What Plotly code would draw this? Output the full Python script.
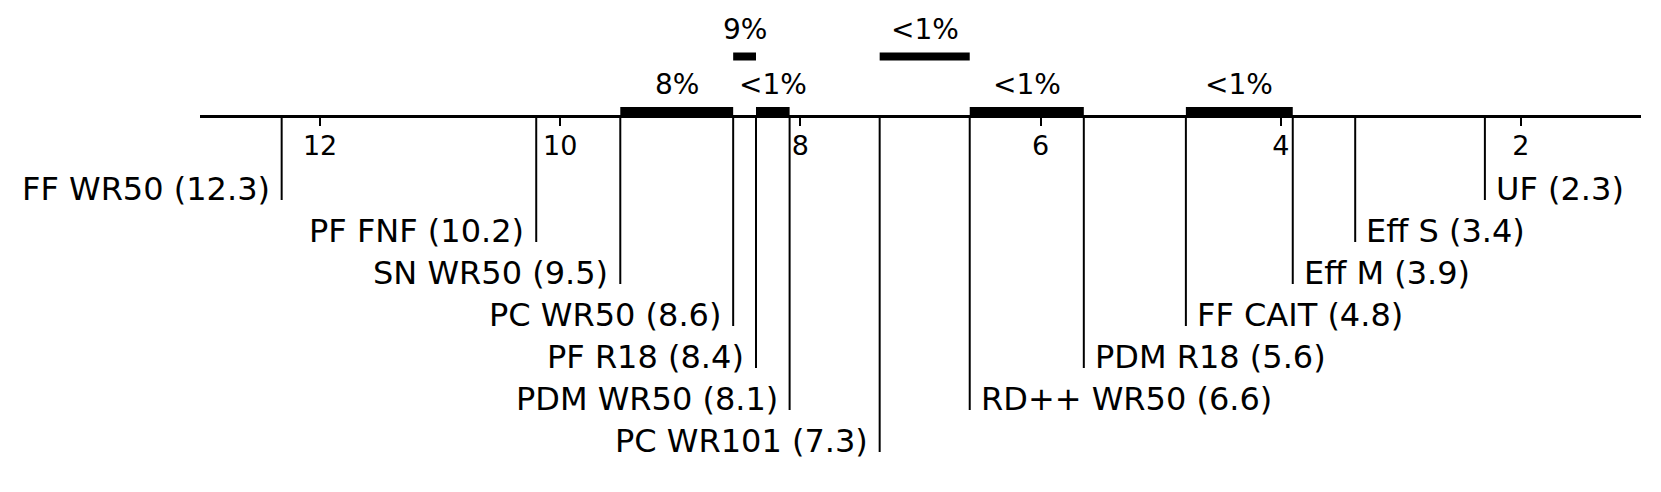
import plotly.graph_objects as go

# ---- data ----
method_names = ["FF WR50", "PF FNF", "SN WR50", "PC WR50", "PF R18", "PDM WR50",
                "PC WR101", "RD++ WR50", "PDM R18", "FF CAIT", "Eff M", "Eff S", "UF"]
mean_ranks = [12.32, 10.2, 9.5, 8.56, 8.37, 8.09, 7.34, 6.59, 5.64, 4.79, 3.90, 3.38, 2.30]
clique_from = ["SN WR50", "PC WR50", "PF R18", "PC WR101", "RD++ WR50", "FF CAIT"]
clique_to = ["PC WR50", "PF R18", "PDM WR50", "RD++ WR50", "PDM R18", "Eff M"]
clique_labels = ["8%", "9%", "<1%", "<1%", "<1%", "<1%"]
clique_levels = [0, 1, 0, 1, 0, 0]
tick_values = [12, 10, 8, 6, 4, 2]

# ---- layout constants ----
W, H = 1661, 492
AXIS_Y = 116
ROW0 = 200
ROW_STEP = 42
BAR_Y = [111, 56.5]
FONT = "DejaVu Sans"

rank_of = dict(zip(method_names, mean_ranks))
n_left = 7

fig = go.Figure()
annotations = []

left = sorted(zip(method_names, mean_ranks), key=lambda t: -t[1])[:n_left]
right = sorted(zip(method_names, mean_ranks), key=lambda t: t[1])[:len(method_names) - n_left]

for side, items in (("left", left), ("right", right)):
    for row, (name, r) in enumerate(items):
        yb = ROW0 + ROW_STEP * row
        fig.add_trace(go.Scatter(x=[r, r], y=[AXIS_Y, yb], mode="lines",
                                 line=dict(color="black", width=2), hoverinfo="skip",
                                 showlegend=False, cliponaxis=False))
        annotations.append(dict(x=r, y=yb - 11, xref="x", yref="y", text=f"{name} ({r:.1f})",
                                showarrow=False,
                                xanchor="right" if side == "left" else "left",
                                yanchor="middle",
                                xshift=-10 if side == "left" else 9,
                                font=dict(family=FONT, size=32, color="black")))

for a, b, lab, lev in zip(clique_from, clique_to, clique_labels, clique_levels):
    x0, x1 = rank_of[a], rank_of[b]
    y = BAR_Y[lev]
    fig.add_trace(go.Scatter(x=[x0, x1], y=[y, y], mode="lines",
                             line=dict(color="black", width=8), hoverinfo="skip",
                             showlegend=False, cliponaxis=False))
    annotations.append(dict(x=(x0 + x1) / 2, y=y - 27, xref="x", yref="y", text=lab,
                            showarrow=False, xanchor="center", yanchor="middle",
                            font=dict(family=FONT, size=28, color="black")))

fig.update_layout(
    width=W, height=H,
    margin=dict(l=200, r=20, t=0, b=0, pad=0),
    paper_bgcolor="white", plot_bgcolor="white",
    annotations=annotations,
    hovermode=False,
    xaxis=dict(range=[13, 1], showline=True, linecolor="black", linewidth=2.5,
               ticks="outside", ticklen=8, tickwidth=2, tickcolor="black",
               tickvals=tick_values, ticktext=[str(t) for t in tick_values],
               tickfont=dict(family=FONT, size=27, color="black"),
               ticklabelstandoff=-3,
               showgrid=False, zeroline=False, anchor="free", position=1 - AXIS_Y / H),
    yaxis=dict(range=[H, 0], visible=False, showgrid=False, zeroline=False),
)

fig.write_html("out.html", config={"displayModeBar": False},
               post_script="document.body.style.margin='0';document.body.style.overflow='hidden';")
